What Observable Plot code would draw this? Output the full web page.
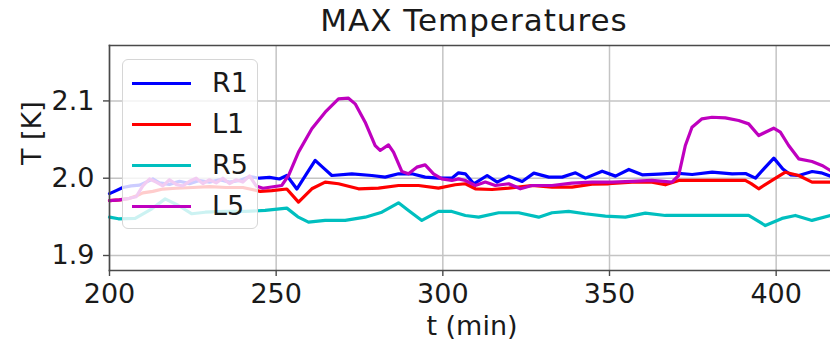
<!DOCTYPE html>
<html>
<head>
<meta charset="utf-8">
<script src="https://cdn.jsdelivr.net/npm/d3@7"></script>
<script src="https://cdn.jsdelivr.net/npm/@observablehq/plot@0.6"></script>
<style>
  html, body { margin: 0; padding: 0; background: #fff; }
  #wrap { position: relative; width: 830px; height: 342px; overflow: hidden; font-family: "DejaVu Sans", sans-serif; color: #1a1a1a; }
  #title { position: absolute; top: 5px; left: 474px; transform: translateX(-50%); font-size: 31px; letter-spacing: 1px; line-height: 31px; white-space: nowrap; }
  #legend { position: absolute; left: 122px; top: 59px; width: 136px; height: 170px; background: rgba(255,255,255,0.8); border: 1px solid #d6d6d6; border-radius: 6px; box-sizing: border-box; }
  .item { position: absolute; left: 0; height: 30px; }
  .swatch { position: absolute; left: 9px; top: 14px; width: 59px; height: 3px; }
  .lab { position: absolute; left: 89px; top: 0; font-size: 27px; line-height: 30px; }
</style>
</head>
<body>
<div id="wrap">
  <div id="chart"></div>
  <div id="title">MAX Temperatures</div>
  <div id="legend"></div>
</div>
<script>
const seriesNames = ["R1", "L1", "R5", "L5"];
const seriesColors = ["#0000ff", "#ff0000", "#00bfbf", "#bf00bf"];
const xTicks = [200, 250, 300, 350, 400];
const yTicks = [1.9, 2.0, 2.1];
const xDomain = [200, 416.3];
const yDomain = [1.8806, 2.1717];

const R1 = [[200,1.980],[202,1.984],[204,1.988],[206.5,1.990],[209,1.991],[211,1.995],[213,1.999],[215,1.994],[218,1.992],[221,1.996],[224,1.993],[227,1.997],[230,1.995],[233,1.998],[236,1.995],[239,1.997],[242,2.002],[245,2.000],[248,2.001],[251,1.999],[253.2,2.0035],[256.2,1.986],[259,2.005],[261.7,2.023],[264,2.014],[266.7,2.0035],[272.7,2.0057],[278.7,2.0035],[282.7,2.0014],[286.7,2.0057],[290.7,2.0057],[294.7,2.0014],[298.7,2.0001],[302.7,2.0001],[304.7,2.007],[306.75,2.0057],[309.3,1.9928],[313.3,2.0035],[316.3,1.995],[319.8,2.0027],[323.8,1.9958],[327.3,2.0066],[331.8,2.0014],[335.8,2.0014],[339.8,2.007],[342.8,2.0001],[347.8,2.0091],[351.8,2.0027],[355.8,2.0113],[359.8,2.0044],[364.8,2.0053],[369.8,2.0066],[374.8,2.0048],[380.8,2.0078],[386.8,2.0057],[390.8,2.0061],[393.8,2.0001],[396.5,2.013],[399.3,2.026],[402,2.012],[404.3,2.0044],[406.8,2.0035],[410.8,2.0087],[413.5,2.007],[416.3,2.0027]];
const L1 = [[200,1.971],[203,1.972],[206,1.974],[208,1.977],[210,1.981],[213,1.983],[216,1.986],[220,1.987],[225,1.988],[230,1.989],[235,1.988],[240,1.988],[245.2,1.983],[248.7,1.984],[253.2,1.986],[256.7,1.969],[260.7,1.9863],[264.7,1.995],[268.7,1.9928],[274.7,1.9863],[280.7,1.9872],[286.7,1.9906],[292.7,1.9906],[298.7,1.9872],[303.7,1.9915],[306.75,1.9928],[309.75,1.9863],[314.75,1.9854],[319.75,1.9872],[326.75,1.9906],[332.75,1.9884],[338.75,1.9884],[344.75,1.9923],[349.75,1.9928],[356.75,1.995],[362.75,1.995],[366.75,1.9915],[370.75,1.9971],[376.75,1.9971],[382.75,1.9971],[390.75,1.9971],[392.5,1.993],[394.75,1.9863],[398.75,1.9971],[402.75,2.0078],[406.75,2.0035],[410.75,1.995],[416.25,1.995]];
const R5 = [[200,1.9496],[202.7,1.9475],[207.7,1.948],[212.7,1.9604],[216.7,1.9733],[220.7,1.9647],[224.7,1.954],[228.7,1.956],[234.7,1.957],[240.7,1.957],[246.7,1.9583],[253.2,1.9613],[256.5,1.950],[259.7,1.9432],[264.7,1.9454],[270.7,1.9454],[276.7,1.9496],[281.7,1.956],[286.7,1.9682],[289.7,1.9583],[293.7,1.9454],[298.7,1.957],[302.7,1.957],[306.75,1.9518],[310.75,1.9496],[316.75,1.9553],[322.75,1.9553],[328.75,1.9496],[332.75,1.9553],[337.75,1.957],[342.75,1.954],[348.75,1.951],[354.75,1.9496],[360.75,1.9548],[366.75,1.9518],[374.75,1.9518],[382.75,1.9518],[391.75,1.9518],[396.75,1.9388],[401.75,1.948],[405.75,1.9518],[410.75,1.9454],[416.25,1.9518]];
const L5 = [[200,1.971],[203,1.972],[206,1.974],[208,1.976],[210,1.990],[212,1.999],[214,1.995],[216,1.990],[218,1.998],[220,1.992],[222,1.990],[224,1.996],[226,2.000],[228,1.993],[230,1.998],[232,1.994],[234,2.000],[236,1.993],[238,1.998],[240,1.995],[242,2.003],[244,1.990],[246,1.987],[251.7,1.9906],[253.7,2.0035],[256.7,2.0337],[260.7,2.0639],[264.7,2.0854],[268.7,2.1027],[271.7,2.1035],[273.7,2.0962],[276.7,2.0725],[279.7,2.0423],[281.2,2.0359],[283.7,2.0432],[285.2,2.0337],[287.7,2.0087],[289.7,2.0057],[292.2,2.0143],[294.7,2.0173],[297.2,2.0057],[299.7,1.9992],[302.7,1.9971],[304.7,1.9992],[306.75,1.9971],[309.75,1.9906],[312.75,1.995],[315.75,1.9906],[319.75,1.9928],[323.25,1.9863],[326.75,1.9906],[332.75,1.9906],[338.75,1.9936],[344.75,1.995],[350.75,1.995],[356.75,1.9958],[362.75,1.9971],[368.75,1.995],[370.75,2.0035],[372.75,2.0423],[374.75,2.066],[377.75,2.0768],[380.75,2.0789],[384.75,2.0781],[388.75,2.0746],[391.75,2.0703],[394.75,2.0552],[396.75,2.0595],[399.25,2.0647],[401.25,2.0595],[403.75,2.0423],[406.75,2.0251],[410.75,2.0216],[413.75,2.0165],[416.25,2.01]];

const seriesData = [R1, L1, R5, L5];
const rows = seriesData.flatMap((arr, i) => arr.map(([t, v]) => ({t, v, s: seriesNames[i]})));

const spine = {stroke: "#4a4a4a", strokeWidth: 1.6};
const chart = Plot.plot({
  width: 830,
  height: 342,
  marginLeft: 109,
  marginRight: 0,
  marginTop: 45,
  marginBottom: 72,
  style: {fontFamily: "DejaVu Sans, sans-serif", fontSize: "27px", color: "#1a1a1a", background: "#fff"},
  x: {domain: xDomain},
  y: {domain: yDomain},
  color: {domain: seriesNames, range: seriesColors},
  marks: [
    Plot.gridX(xTicks, {stroke: "#c4c4c4", strokeOpacity: 1, strokeWidth: 1.5}),
    Plot.gridY(yTicks, {stroke: "#c4c4c4", strokeOpacity: 1, strokeWidth: 1.5}),
    Plot.line(rows, {x: "t", y: "v", z: "s", stroke: "s", strokeWidth: 3.2, strokeLinejoin: "round", strokeLinecap: "round"}),
    Plot.frame({anchor: "left", ...spine}),
    Plot.frame({anchor: "top", ...spine}),
    Plot.frame({anchor: "bottom", ...spine}),
    Plot.axisX(xTicks, {tickSize: 6, tickPadding: 7, label: null, stroke: "#4a4a4a", strokeWidth: 1.4}),
    Plot.axisY(yTicks, {tickSize: 6, tickPadding: 9, label: null, tickFormat: d3.format(".1f"), stroke: "#4a4a4a", strokeWidth: 1.4}),
    Plot.text(["t (min)"], {text: d => d, frameAnchor: "bottom", lineAnchor: "top", dy: 45, dx: 2}),
    Plot.text(["T [K]"], {text: d => d, frameAnchor: "left", rotate: -90, lineAnchor: "top", dx: -88, dy: 7})
  ]
});
document.getElementById("chart").appendChild(chart);

const legend = document.getElementById("legend");
seriesNames.forEach((name, i) => {
  const item = document.createElement("div");
  item.className = "item";
  item.style.top = (8 + i * 41) + "px";
  const sw = document.createElement("div");
  sw.className = "swatch";
  sw.style.background = seriesColors[i];
  const lab = document.createElement("div");
  lab.className = "lab";
  lab.textContent = name;
  item.appendChild(sw);
  item.appendChild(lab);
  legend.appendChild(item);
});
</script>
</body>
</html>
